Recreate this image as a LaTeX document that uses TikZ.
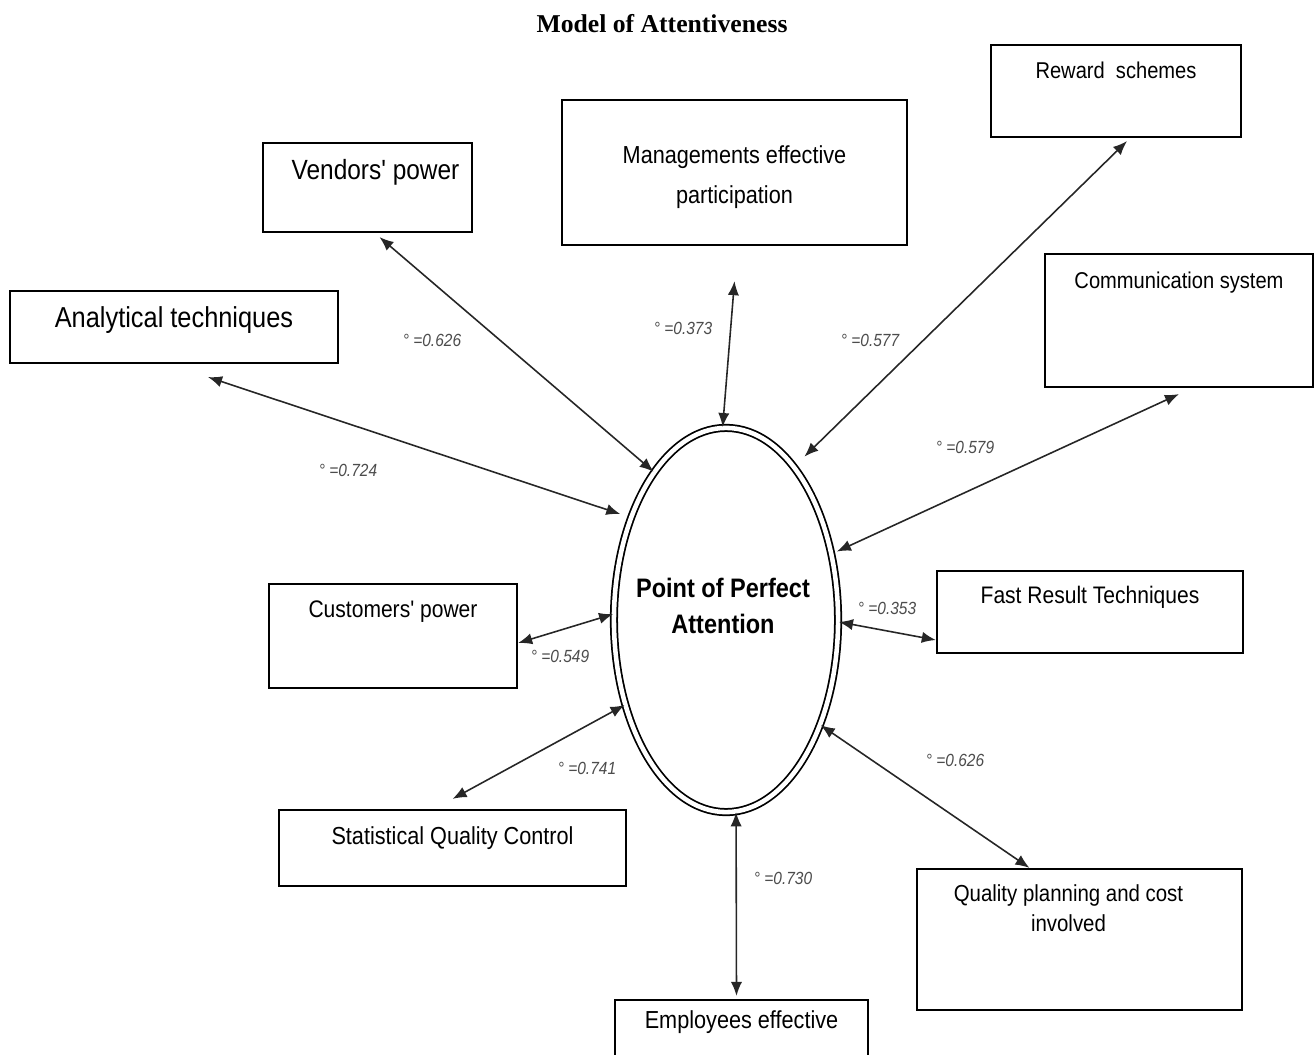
\documentclass[tikz,border=0pt]{standalone}
\usepackage{fontspec}
\setmainfont{Liberation Serif}
\newfontfamily\boxfont[FakeStretch=0.88]{Liberation Sans}
\usetikzlibrary{shapes.geometric,arrows.meta,positioning}

\tikzset{
  box/.style={draw, line width=0.6pt, inner sep=0pt},
  boxtext/.style={font=\boxfont\fontsize{7}{8.5}\selectfont, inner sep=0pt, align=center},
  link/.style={{Latex[length=4pt,width=3.2pt]}-{Latex[length=4pt,width=3.2pt]}, line width=0.45pt, black!85},
  coef/.style={font=\boxfont\itshape\fontsize{5}{6}\selectfont, black!70, inner sep=0pt}
}

\begin{document}
\begin{tikzpicture}[x=0.01cm,y=-0.01cm]

\useasboundingbox (0,0) rectangle (1315,1055);
\clip (0,0) rectangle (1315,1055);

\node[font=\bfseries\fontsize{7.3}{9}\selectfont] (title) at (662,24) {Model of Attentiveness};

% centre
\node[ellipse, draw, double, double distance=1.3pt, line width=0.5pt,
      minimum width=2.24cm, minimum height=3.84cm, inner sep=0pt] (ppa) at (726,620) {};
\node[font=\boxfont\bfseries\fontsize{7.6}{10}\selectfont, align=center, inner sep=0pt] (ppaT) at (723,606)
      {Point of Perfect\\Attention};

% boxes
\node[box, minimum width=2.50cm, minimum height=0.92cm] (rew) at (1116,91) {};
\node[box, minimum width=2.09cm, minimum height=0.89cm] (vend) at (367.5,187.5) {};
\node[box, minimum width=3.45cm, minimum height=1.45cm] (mgmt) at (734.5,172.5) {};
\node[box, minimum width=3.28cm, minimum height=0.72cm] (anal) at (174,327) {};
\node[box, minimum width=2.68cm, minimum height=1.33cm] (comm) at (1179,320.5) {};
\node[box, minimum width=3.06cm, minimum height=0.82cm] (fast) at (1090,612) {};
\node[box, minimum width=2.48cm, minimum height=1.04cm] (cust) at (393,636) {};
\node[box, minimum width=3.47cm, minimum height=0.76cm] (stat) at (452.5,848) {};
\node[box, minimum width=3.25cm, minimum height=1.41cm] (qual) at (1079.5,939.5) {};
\node[box, minimum width=2.53cm, minimum height=0.80cm] (emp) at (741.5,1040) {};

% box texts
\node[boxtext, font=\boxfont\fontsize{6.5}{8}\selectfont, below=0.17cm of rew.north] (rewT) {Reward~ schemes};
\node[boxtext, font=\boxfont\fontsize{7.9}{10}\selectfont, below=0.17cm of vend.north, xshift=0.08cm] (vendT) {Vendors' power};
\node[boxtext, below=0.46cm of mgmt.north] (mgmtT) {Managements effective\\[3pt]participation};
\node[boxtext, font=\boxfont\fontsize{8.2}{10}\selectfont, below=0.16cm of anal.north] (analT) {Analytical techniques};
\node[boxtext, font=\boxfont\fontsize{6.5}{8}\selectfont, below=0.18cm of comm.north] (commT) {Communication system};
\node[boxtext, font=\boxfont\fontsize{6.8}{8}\selectfont, below=0.16cm of fast.north] (fastT) {Fast Result Techniques};
\node[boxtext, font=\boxfont\fontsize{6.8}{8}\selectfont, below=0.17cm of cust.north] (custT) {Customers' power};
\node[boxtext, font=\boxfont\fontsize{7}{8}\selectfont, below=0.17cm of stat.north] (statT) {Statistical Quality Control};
\node[boxtext, font=\boxfont\fontsize{6.6}{8.6}\selectfont, below=0.16cm of qual.north, xshift=-0.11cm] (qualT) {Quality planning and cost\\involved};
\node[boxtext, below=0.11cm of emp.north] (empT) {Employees effective};

% links
\draw[link] ([xshift=0.12cm,yshift=-0.04cm]vend.south) -- (ppa.116);
\draw[link] ([yshift=-0.35cm]mgmt.south) -- (ppa.91);
\draw[link, shorten >=4pt] ([xshift=0.11cm,yshift=-0.03cm]rew.south) -- (ppa.66);
\draw[link, shorten >=3pt] ([xshift=0.34cm,yshift=-0.13cm]anal.south) -- (ppa.133);
\draw[link, shorten >=1.5pt] ([yshift=-0.06cm]comm.south) -- (ppa.32);
\draw[link] ([yshift=-0.28cm]fast.west) -- (ppa.-1);
\draw[link] ([yshift=-0.07cm]cust.east) -- (ppa.177);
\draw[link] ([yshift=0.1cm]stat.north) -- (ppa.220);
\draw[link] ([xshift=-0.5cm]qual.north) -- (ppa.-48);
\draw[link] ([xshift=-0.05cm,yshift=0.03cm]emp.north) -- (ppa.-87);

% coefficients
\node[coef] (cVend) at (432,340) {° =0.626};
\node[coef] (cMgmt) at (683,328) {° =0.373};
\node[coef] (cRew) at (870,340) {° =0.577};
\node[coef] (cAnal) at (348,470) {° =0.724};
\node[coef] (cComm) at (965,447) {° =0.579};
\node[coef] (cFast) at (887,608) {° =0.353};
\node[coef] (cCust) at (560,656) {° =0.549};
\node[coef] (cStat) at (587,768) {° =0.741};
\node[coef] (cQual) at (955,760) {° =0.626};
\node[coef] (cEmp) at (783,878) {° =0.730};

\end{tikzpicture}
\end{document}
